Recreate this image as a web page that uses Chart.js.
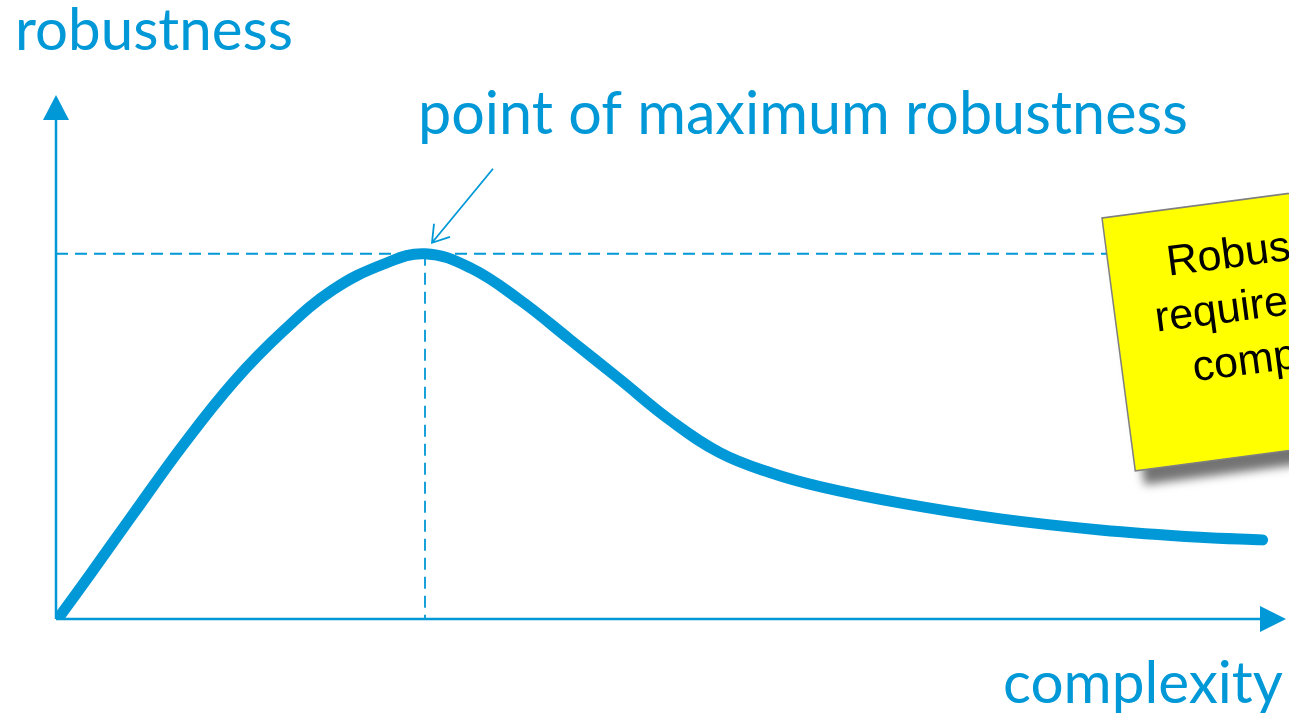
<!DOCTYPE html>
<html>
<head>
<meta charset="utf-8">
<script src="https://cdn.jsdelivr.net/npm/chart.js@4.4.0/dist/chart.umd.min.js"></script>
<style>
  html, body { margin: 0; padding: 0; background: #fff; }
  #wrap { width: 1289px; height: 715px; position: relative; }
</style>
</head>
<body>
<div id="wrap"><canvas id="robChart"></canvas></div>
<script>
// complexity (x) vs robustness (y), both on a 0..100 scale
var complexity = [0.3, 2.8, 6.3, 10.4, 14.5, 18.5, 22.5, 26.6, 30.0, 33.7, 37.7, 41.8, 45.9, 49.9, 54.0, 58.1, 62.2, 68.7, 76.8, 84.9, 93.0, 98.1];
var robustness = [0.5, 8.6, 20.1, 33.4, 45.4, 55.0, 62.8, 67.7, 69.7, 67.0, 60.9, 53.3, 45.6, 38.0, 31.7, 27.9, 25.2, 22.1, 19.1, 17.0, 15.6, 15.1];
var peakIndex = 8;
var dashEndX = 86; // horizontal guide runs under the note
var noteLines = ["Robustness", "requires more", "complexity"];

var blue = "#0098d6";

var curve = complexity.map(function (x, i) { return { x: x, y: robustness[i] }; });
var peak = curve[peakIndex];

// fit a font size so the text spans a given width
function fitFont(ctx, text, width, family) {
  ctx.font = "100px " + family;
  return 100 * width / ctx.measureText(text).width;
}

var sketch = {
  id: "sketch",
  beforeDatasetsDraw: function (chart) {
    var ctx = chart.ctx;
    var xs = chart.scales.x, ys = chart.scales.y;
    var x0 = xs.getPixelForValue(0), y0 = ys.getPixelForValue(0);
    var xEnd = xs.getPixelForValue(100), yEnd = ys.getPixelForValue(100);
    ctx.save();
    ctx.strokeStyle = blue;
    ctx.fillStyle = blue;
    ctx.lineWidth = 2.5;
    // axes
    ctx.beginPath();
    ctx.moveTo(x0, y0);
    ctx.lineTo(x0, yEnd + 25);
    ctx.moveTo(x0, y0);
    ctx.lineTo(xEnd - 25, y0);
    ctx.stroke();
    // arrow heads
    ctx.beginPath();
    ctx.moveTo(x0, yEnd);
    ctx.lineTo(x0 - 13, yEnd + 25);
    ctx.lineTo(x0 + 13, yEnd + 25);
    ctx.closePath();
    ctx.fill();
    ctx.beginPath();
    ctx.moveTo(xEnd, y0);
    ctx.lineTo(xEnd - 26, y0 - 13);
    ctx.lineTo(xEnd - 26, y0 + 13);
    ctx.closePath();
    ctx.fill();
    ctx.restore();
  },
  afterDraw: function (chart) {
    var ctx = chart.ctx;
    var xs = chart.scales.x, ys = chart.scales.y;
    ctx.save();
    ctx.fillStyle = blue;
    ctx.textBaseline = "alphabetic";
    ctx.textAlign = "left";
    var s = fitFont(ctx, "robustness", 278, "Lato");
    ctx.font = s + "px Lato";
    ctx.fillText("robustness", 15, 50);
    s = fitFont(ctx, "point of maximum robustness", 770, "Lato");
    ctx.font = s + "px Lato";
    ctx.fillText("point of maximum robustness", 418, 134);
    s = fitFont(ctx, "complexity", 280, "Lato");
    ctx.font = s + "px Lato";
    ctx.fillText("complexity", 1003, 703);

    // pointer arrow to the peak
    var px = xs.getPixelForValue(peak.x) + 7;
    var py = ys.getPixelForValue(peak.y) - 11;
    ctx.strokeStyle = blue;
    ctx.lineWidth = 1.8;
    ctx.beginPath();
    ctx.moveTo(px + 61, py - 74);
    ctx.lineTo(px, py);
    ctx.moveTo(px + 2, py - 19);
    ctx.lineTo(px, py);
    ctx.lineTo(px + 18, py - 6);
    ctx.stroke();

    // sticky note
    ctx.translate(1102, 218);
    ctx.rotate(-7.5 * Math.PI / 180);
    ctx.save();
    ctx.shadowColor = "rgba(0,0,0,0.55)";
    ctx.shadowBlur = 10;
    ctx.shadowOffsetX = 9;
    ctx.shadowOffsetY = 14;
    ctx.fillStyle = "#ffff00";
    ctx.fillRect(0, 0, 348, 255);
    ctx.restore();
    ctx.strokeStyle = "#7f7f7f";
    ctx.lineWidth = 1.5;
    ctx.strokeRect(0, 0, 348, 255);
    ctx.fillStyle = "#000";
    ctx.textAlign = "center";
    ctx.font = "43px 'Liberation Sans', Arial, sans-serif";
    noteLines.forEach(function (t, i) {
      ctx.fillText(t, 172, 66 + i * 54);
    });
    ctx.restore();
  }
};

new Chart(document.getElementById("robChart"), {
  type: "line",
  data: {
    datasets: [
      {
        label: "robustness",
        data: curve,
        borderColor: blue,
        borderWidth: 11,
        borderCapStyle: "round",
        borderJoinStyle: "round",
        tension: 0.4,
        pointRadius: 0,
        fill: false,
        order: 0
      },
      {
        label: "max h",
        data: [{ x: 0, y: peak.y }, { x: dashEndX, y: peak.y }],
        borderColor: blue,
        borderWidth: 1.8,
        borderDash: [12, 7],
        pointRadius: 0,
        order: 1
      },
      {
        label: "max v",
        data: [{ x: peak.x, y: peak.y }, { x: peak.x, y: 0 }],
        borderColor: blue,
        borderWidth: 1.8,
        borderDash: [12, 7],
        pointRadius: 0,
        order: 1
      }
    ]
  },
  options: {
    responsive: true,
    maintainAspectRatio: false,
    animation: false,
    layout: { padding: { left: 56, right: 3, top: 95, bottom: 96 } },
    scales: {
      x: { type: "linear", min: 0, max: 100, display: false },
      y: { type: "linear", min: 0, max: 100, display: false }
    },
    plugins: {
      legend: { display: false },
      tooltip: { enabled: false }
    }
  },
  plugins: [sketch]
});
</script>
</body>
</html>
